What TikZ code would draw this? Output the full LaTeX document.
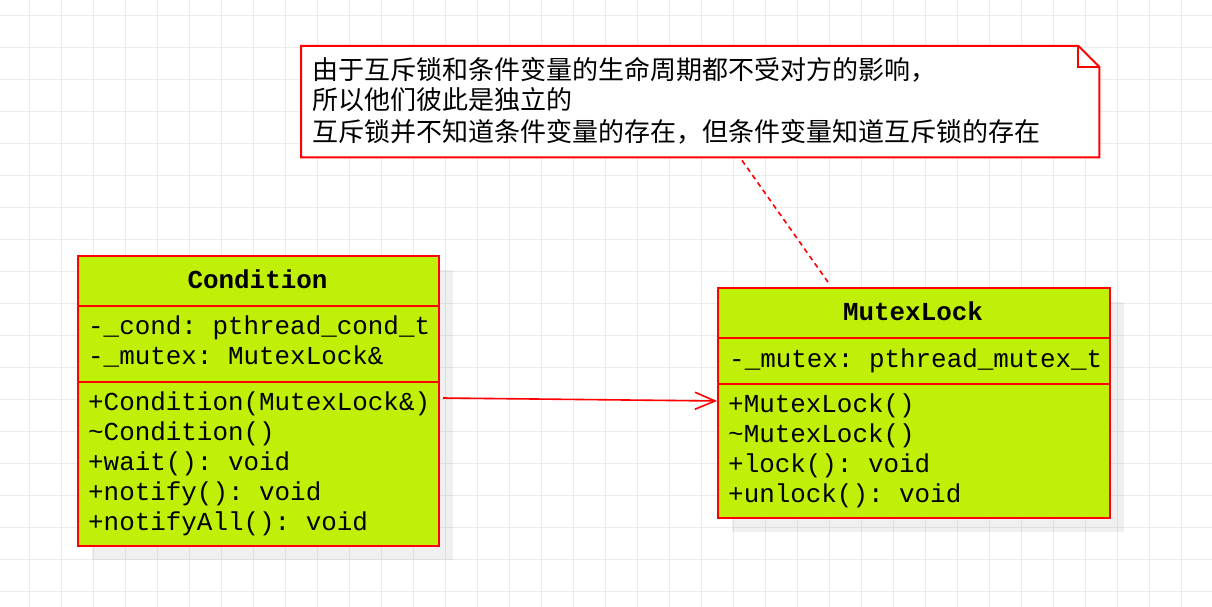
\documentclass[tikz,border=0pt]{standalone}
\usepackage{fontspec}
\setmonofont{Liberation Mono}
\newfontfamily\cjk{Noto Sans CJK SC}
\usetikzlibrary{arrows.meta,calc}
\definecolor{umlfill}{RGB}{192,240,8}
\definecolor{umlred}{RGB}{255,0,0}
\definecolor{gridc}{RGB}{236,236,236}
\begin{document}
\begin{tikzpicture}[x=1pt,y=-1pt,
  compart/.style={draw=umlred, line width=2pt, fill=umlfill, anchor=north west, inner sep=0pt},
  shadowbox/.style={fill=black, opacity=0.06, draw=none, anchor=north west, inner sep=0pt},
  mono/.style={font=\fontsize{25.9}{30}\selectfont\ttfamily, inner sep=0pt, anchor=base west},
  monob/.style={font=\fontsize{25.9}{30}\selectfont\ttfamily\bfseries, inner sep=0pt, anchor=base},
  cjktext/.style={font=\fontsize{26}{30}\selectfont\cjk, inner sep=0pt, anchor=base west},
  assoc/.style={draw=umlred, line width=1.6pt, -{Straight Barb[length=20pt,width=17pt,line width=1.6pt]}},
  notelink/.style={draw=umlred, line width=1.6pt, dash pattern=on 5pt off 4pt}]
\useasboundingbox (0,0) rectangle (1212,607);
\fill[white] (0,0) rectangle (1212,607);
% grid
\foreach \i in {0,...,37} {\draw[gridc, line width=1pt] (29.3+32*\i,0) -- (29.3+32*\i,607);}
\foreach \j in {0,...,18} {\draw[gridc, line width=1pt] (0,15.3+32*\j) -- (1212,15.3+32*\j);}

% shadows
\node[shadowbox, minimum width=361pt, minimum height=290pt] (condShadow) at (92,270) {};
\node[shadowbox, minimum width=392pt, minimum height=230pt] (mutexShadow) at (732,302) {};

% Condition class
\node[compart, minimum width=361pt, minimum height=50pt] (condHead) at (77,255) {};
\node[compart, minimum width=361pt, minimum height=76pt] (condAttr) at (77,305) {};
\node[compart, minimum width=361pt, minimum height=164pt] (condMeth) at (77,381) {};
\node[monob] (condName) at (257.5,288) {Condition};
\node[mono] (condA1) at (88,334) {-\_cond: pthread\_cond\_t};
\node[mono] (condA2) at (88,364) {-\_mutex: MutexLock\&};
\node[mono] (condM1) at (88,410) {+Condition(MutexLock\&)};
\node[mono] (condM2) at (88,440) {\textasciitilde Condition()};
\node[mono] (condM3) at (88,470) {+wait(): void};
\node[mono] (condM4) at (88,500) {+notify(): void};
\node[mono] (condM5) at (88,530) {+notifyAll(): void};

% MutexLock class
\node[compart, minimum width=392pt, minimum height=50pt] (mutexHead) at (717,287) {};
\node[compart, minimum width=392pt, minimum height=46pt] (mutexAttr) at (717,337) {};
\node[compart, minimum width=392pt, minimum height=134pt] (mutexMeth) at (717,383) {};
\node[monob] (mutexName) at (913,320) {MutexLock};
\node[mono] (mutexA1) at (729,367) {-\_mutex: pthread\_mutex\_t};
\node[mono] (mutexM1) at (728,412) {+MutexLock()};
\node[mono] (mutexM2) at (728,442) {\textasciitilde MutexLock()};
\node[mono] (mutexM3) at (728,472) {+lock(): void};
\node[mono] (mutexM4) at (728,502) {+unlock(): void};

% note
\node[anchor=north west, inner sep=0pt, minimum width=798pt, minimum height=111pt] (note) at (301,46) {};
\draw[umlred, line width=2pt, fill=white]
  (note.north west) -- ([xshift=-21pt]note.north east) -- ([yshift=-21pt]note.north east)
  -- (note.south east) -- (note.south west) -- cycle;
\draw[umlred, line width=2pt]
  ([xshift=-21pt]note.north east) -- ([xshift=-21pt,yshift=-21pt]note.north east) -- ([yshift=-21pt]note.north east);
\node[cjktext] (noteL1) at (312,80) {由于互斥锁和条件变量的生命周期都不受对方的影响，};
\node[cjktext] (noteL2) at (312,110) {所以他们彼此是独立的};
\node[cjktext] (noteL3) at (312,142) {互斥锁并不知道条件变量的存在，但条件变量知道互斥锁的存在};

% connectors
\draw[notelink] ([xshift=441pt,yshift=-3pt]note.south west) -- ([xshift=113pt,yshift=2pt]mutexHead.north west);
\draw[assoc] ([xshift=3pt,yshift=-17pt]condMeth.north east) -- ([yshift=-18pt]mutexMeth.north west);
\end{tikzpicture}
\end{document}
